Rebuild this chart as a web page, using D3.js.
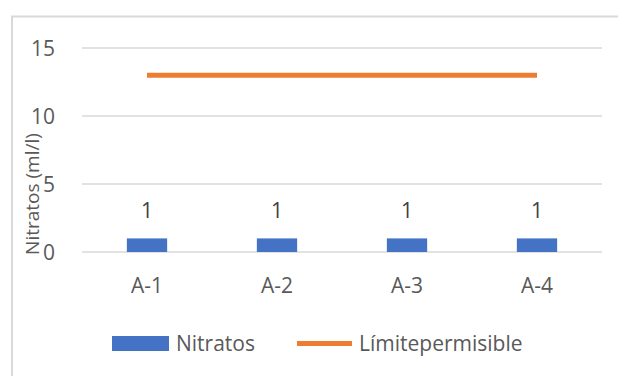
<!DOCTYPE html>
<html>
<head>
<meta charset="utf-8">
<script src="https://cdn.jsdelivr.net/npm/d3@7"></script>
<style>
  html, body { margin: 0; padding: 0; background: #fff; }
  svg { display: block; font-family: "Open Sans", sans-serif; }
</style>
</head>
<body>
<svg id="chart" width="618" height="376"></svg>
<script>
// Sampling points and measured nitrate values
const categories = ["A-1", "A-2", "A-3", "A-4"];
const nitratos = [1, 1, 1, 1];
const limitePermisible = [13, 13, 13, 13];
const yTicks = [0, 5, 10, 15];
const seriesNames = ["Nitratos", "Límitepermisible"];

const svg = d3.select("#chart");
const blue = "#4472C4", orange = "#ED7D31", grid = "#d9d9d9", text = "#595959";

// Chart frame (top and left edges)
svg.append("line").attr("x1", 11).attr("x2", 618).attr("y1", 16.5).attr("y2", 16.5)
  .attr("stroke", grid).attr("stroke-width", 2);
svg.append("line").attr("x1", 12).attr("x2", 12).attr("y1", 16).attr("y2", 376)
  .attr("stroke", grid).attr("stroke-width", 2);

const x = d3.scaleBand().domain(categories).range([82, 602])
  .paddingInner(0.69).paddingOuter(0.345);
const y = d3.scaleLinear().domain([0, 15]).range([252, 48]);

// Horizontal gridlines
svg.append("g").selectAll("line").data(yTicks).join("line")
  .attr("x1", 82).attr("x2", 602)
  .attr("y1", d => y(d)).attr("y2", d => y(d))
  .attr("stroke", grid).attr("stroke-width", 1.5);

// Y axis tick labels
const yAxis = d3.axisLeft(y).tickValues(yTicks).tickSize(0).tickPadding(0);
const gy = svg.append("g").attr("transform", "translate(55,0)").call(yAxis);
gy.select(".domain").remove();
gy.selectAll("text").attr("fill", text).attr("font-size", 21)
  .attr("font-family", "Open Sans, sans-serif").attr("dy", "0.35em");

// X axis category labels
const xAxis = d3.axisBottom(x).tickSize(0).tickPadding(0);
const gx = svg.append("g").attr("transform", "translate(0,278)").call(xAxis);
gx.select(".domain").remove();
gx.selectAll("text").attr("fill", text).attr("font-size", 21)
  .attr("font-family", "Open Sans, sans-serif").attr("dy", "0.7em");

// Bars
svg.append("g").selectAll("rect").data(nitratos).join("rect")
  .attr("x", (d, i) => x(categories[i]))
  .attr("y", d => y(d))
  .attr("width", x.bandwidth())
  .attr("height", d => y(0) - y(d))
  .attr("fill", blue);

// Bar value labels
svg.append("g").selectAll("text").data(nitratos).join("text")
  .attr("x", (d, i) => x(categories[i]) + x.bandwidth() / 2)
  .attr("y", d => y(d) - 20)
  .attr("text-anchor", "middle")
  .attr("font-size", 21).attr("fill", "#404040")
  .text(d => d);

// Permissible limit line
const line = d3.line()
  .x((d, i) => x(categories[i]) + x.bandwidth() / 2)
  .y(d => y(d));
svg.append("path").datum(limitePermisible)
  .attr("d", line).attr("fill", "none")
  .attr("stroke", orange).attr("stroke-width", 5);

// Y axis title
svg.append("text")
  .attr("transform", "translate(39,194) rotate(-90)")
  .attr("text-anchor", "middle")
  .attr("font-size", 19).attr("fill", text)
  .text("Nitratos (ml/l)");

// Legend
const lg = svg.append("g");
lg.append("rect").attr("x", 112).attr("y", 336).attr("width", 57).attr("height", 15).attr("fill", blue);
lg.append("text").attr("x", 176).attr("y", 350.5).attr("font-size", 21).attr("fill", text).text(seriesNames[0]);
lg.append("line").attr("x1", 297).attr("x2", 352).attr("y1", 343.5).attr("y2", 343.5)
  .attr("stroke", orange).attr("stroke-width", 5);
lg.append("text").attr("x", 359).attr("y", 350.5).attr("font-size", 21).attr("fill", text).text(seriesNames[1]);
</script>
</body>
</html>
